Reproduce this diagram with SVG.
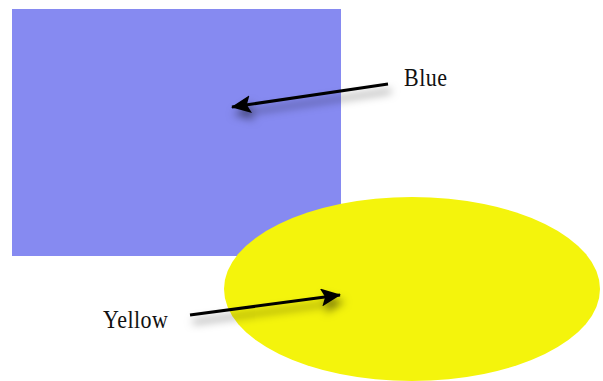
<svg xmlns="http://www.w3.org/2000/svg" width="603" height="381" viewBox="0 0 603 381">
<style>
.lbl{font-family:"Liberation Serif","Times New Roman",serif;font-size:22px;fill:#111}
.arr{stroke:#000;stroke-width:3;fill:none;marker-end:url(#ah)}
</style>
<defs>
<marker id="ah" markerUnits="userSpaceOnUse" markerWidth="22" markerHeight="18" refX="19" refY="9" orient="auto">
<path d="M0,0 L20,9 L0,18 L4,9 Z" fill="#000"/>
</marker>
<filter id="sh" x="-20%" y="-80%" width="140%" height="300%">
<feDropShadow dx="3" dy="7" stdDeviation="4" flood-color="#000" flood-opacity="0.5"/>
</filter>
</defs>
<rect width="603" height="381" fill="#fff"/>
<g id="blue-rect">
<rect x="12" y="9" width="329" height="247" fill="#868af1"/>
</g>
<g id="yellow-ellipse">
<ellipse cx="412" cy="289" rx="188" ry="92" fill="#f4f40c"/>
</g>
<g id="connectors" filter="url(#sh)">
<line class="arr" x1="388" y1="84" x2="232" y2="107"/>
<line class="arr" x1="190" y1="315" x2="340" y2="295"/>
</g>
<g id="label-blue">
<text class="lbl" x="404" y="86" transform="translate(0,-8.6) scale(1,1.1)" textLength="43">Blue</text>
</g>
<g id="label-yellow">
<text class="lbl" x="103" y="328" transform="translate(0,-32.8) scale(1,1.1)" textLength="65">Yellow</text>
</g>
</svg>
